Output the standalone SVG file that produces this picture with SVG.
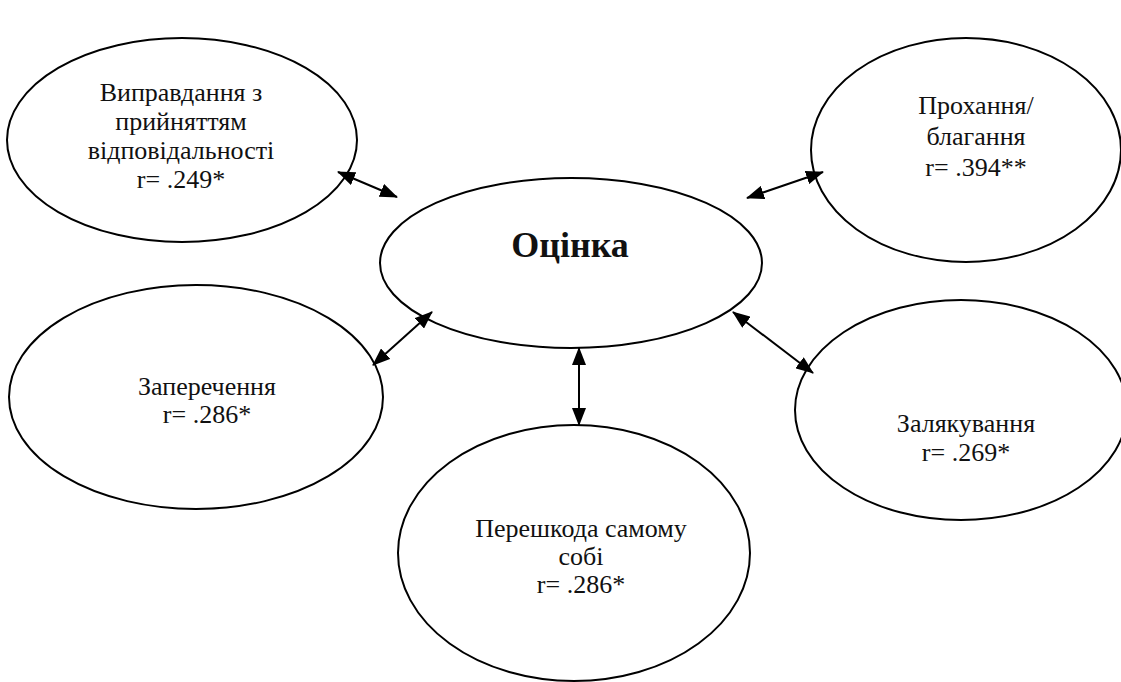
<svg xmlns="http://www.w3.org/2000/svg" width="1121" height="682" viewBox="0 0 1121 682">
<style>
.node ellipse{fill:#fff;stroke:#000;stroke-width:2}
.conn line{stroke:#000;stroke-width:2;fill:none}
</style>
<defs>
<marker id="ah" markerUnits="userSpaceOnUse" markerWidth="18" markerHeight="14" refX="17" refY="7" orient="auto-start-reverse" viewBox="0 0 18 14">
<path d="M0,0 L18,7 L0,14 Z" fill="#000"/>
</marker>
</defs>
<rect width="1121" height="682" fill="#fff"/>
<g font-family="Liberation Serif, DejaVu Serif, serif" fill="#111" text-anchor="middle" font-size="26">
<g id="n-center" class="node">
<ellipse cx="571" cy="263" rx="191" ry="85"/>
<text x="570" y="257" font-size="36" font-weight="bold">Оцінка</text>
</g>
<g id="n-topleft" class="node">
<ellipse cx="182" cy="140" rx="175" ry="102"/>
<text x="181" y="101">Виправдання з</text>
<text x="181" y="130">прийняттям</text>
<text x="181" y="159">відповідальності</text>
<text x="181" y="188">r= .249*</text>
</g>
<g id="n-topright" class="node">
<ellipse cx="966" cy="150" rx="155" ry="112"/>
<text x="976" y="114">Прохання/</text>
<text x="976" y="145">благання</text>
<text x="976" y="176">r= .394**</text>
</g>
<g id="n-left" class="node">
<ellipse cx="196" cy="397" rx="187" ry="112"/>
<text x="207" y="395">Заперечення</text>
<text x="207" y="423">r= .286*</text>
</g>
<g id="n-right" class="node">
<ellipse cx="961" cy="410" rx="166" ry="110"/>
<text x="966" y="432">Залякування</text>
<text x="966" y="461">r= .269*</text>
</g>
<g id="n-bottom" class="node">
<ellipse cx="574" cy="553" rx="176" ry="128"/>
<text x="581" y="537">Перешкода самому</text>
<text x="581" y="565">собі</text>
<text x="581" y="593">r= .286*</text>
</g>
</g>
<g id="connectors" class="conn">
<line x1="338" y1="172" x2="397" y2="197" marker-start="url(#ah)" marker-end="url(#ah)"/>
<line x1="747" y1="198" x2="823" y2="172" marker-start="url(#ah)" marker-end="url(#ah)"/>
<line x1="432" y1="312" x2="373" y2="365" marker-start="url(#ah)" marker-end="url(#ah)"/>
<line x1="733" y1="312" x2="813" y2="373" marker-start="url(#ah)" marker-end="url(#ah)"/>
<line x1="579" y1="348" x2="579" y2="425" marker-start="url(#ah)" marker-end="url(#ah)"/>
</g>
</svg>
